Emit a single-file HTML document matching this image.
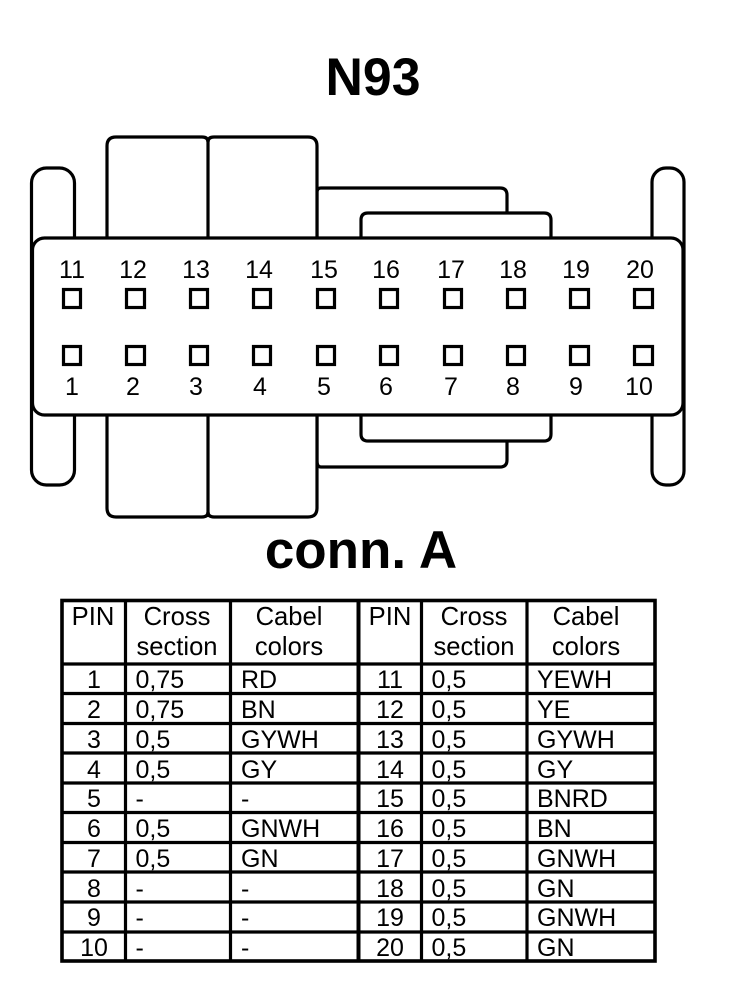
<!DOCTYPE html>
<html><head><meta charset="utf-8"><style>
html,body{margin:0;padding:0;background:#fff}
svg{display:block}
text{font-family:"Liberation Sans",sans-serif;fill:#000}
.n{font-size:25px;text-anchor:middle}
.b{font-size:53px;font-weight:bold;text-anchor:middle}
.t{font-size:25px}
.c{font-size:25px;text-anchor:middle}
.h{font-size:25.6px;text-anchor:middle}
</style></head><body>
<svg width="752" height="1002" viewBox="0 0 752 1002" xmlns="http://www.w3.org/2000/svg">
<rect width="752" height="1002" fill="#fff"/>
<text class="b" x="373" y="95" textLength="95" lengthAdjust="spacingAndGlyphs">N93</text>
<text class="b" x="361" y="568">conn. A</text>
<g fill="#fff" stroke="#000" stroke-width="3.2">
<rect x="31.5" y="168" width="43" height="317" rx="15"/>
<rect x="652" y="168" width="32" height="317" rx="14"/>
<path d="M361 240V220q0-7 7-7H544q7 0 7 7V240M361 415V434q0 7 7 7H544q7 0 7-7V415"/>
<path d="M317 240V192q0-4 4-4H500q7 0 7 7V213M317 415V461q0 6 4 6H500q7 0 7-7V441" fill="none"/>
<path d="M107 240V146q0-9 9-9H202q6 0 6 5q0-5 6-5H308q9 0 9 9V188V415V508q0 9-9 9H214q-6 0-6-5q0 5-6 5H116q-9 0-9-9V415Z"/>
<path d="M208 140V515" fill="none"/>
<rect x="32.5" y="238" width="650.5" height="177" rx="12"/>
</g>
<g fill="none" stroke="#000" stroke-width="3.2">
<rect x="63.5" y="289.5" width="17" height="18"/><rect x="126.5" y="289.5" width="18" height="18"/><rect x="190.5" y="289.5" width="17" height="18"/><rect x="253.5" y="289.5" width="17" height="18"/><rect x="317.5" y="289.5" width="17" height="18"/><rect x="380.5" y="289.5" width="17" height="18"/><rect x="444.5" y="289.5" width="17" height="18"/><rect x="507.5" y="289.5" width="17" height="18"/><rect x="570.5" y="289.5" width="18" height="18"/><rect x="634.5" y="289.5" width="18" height="18"/>
<rect x="63.5" y="346.5" width="17" height="18"/><rect x="126.5" y="346.5" width="18" height="18"/><rect x="190.5" y="346.5" width="17" height="18"/><rect x="253.5" y="346.5" width="17" height="18"/><rect x="317.5" y="346.5" width="17" height="18"/><rect x="380.5" y="346.5" width="17" height="18"/><rect x="444.5" y="346.5" width="17" height="18"/><rect x="507.5" y="346.5" width="17" height="18"/><rect x="570.5" y="346.5" width="18" height="18"/><rect x="634.5" y="346.5" width="18" height="18"/>
</g>
<g>
<text class="n" x="72" y="278">11</text><text class="n" x="133" y="278">12</text><text class="n" x="196" y="278">13</text><text class="n" x="259" y="278">14</text><text class="n" x="324" y="278">15</text><text class="n" x="386" y="278">16</text><text class="n" x="451" y="278">17</text><text class="n" x="513" y="278">18</text><text class="n" x="576" y="278">19</text><text class="n" x="640" y="278">20</text>
<text class="n" x="72" y="395">1</text><text class="n" x="133" y="395">2</text><text class="n" x="196" y="395">3</text><text class="n" x="260" y="395">4</text><text class="n" x="324" y="395">5</text><text class="n" x="386" y="395">6</text><text class="n" x="451" y="395">7</text><text class="n" x="513" y="395">8</text><text class="n" x="576" y="395">9</text><text class="n" x="639" y="395">10</text>
</g>
<g stroke="#000" fill="none">
<rect x="62" y="600.5" width="593" height="360.5" stroke-width="3.6"/>
<path stroke-width="3.2" d="M125.5 600V961M230.5 600V961M421.5 600V961M527 600V961"/>
<path stroke-width="4" d="M358.5 600V961"/>
<path stroke-width="3.2" d="M62 664H655M62 693.5H655M62 723.5H655M62 753H655M62 783H655M62 812.5H655M62 842.5H655M62 872H655M62 902H655M62 932H655"/>
</g>
<text class="h" x="93" y="625">PIN</text><text class="h" x="177" y="625">Cross</text><text class="h" x="177" y="655">section</text><text class="h" x="289" y="625">Cabel</text><text class="h" x="289" y="655">colors</text>
<text class="h" x="390" y="625">PIN</text><text class="h" x="474" y="625">Cross</text><text class="h" x="474" y="655">section</text><text class="h" x="586" y="625">Cabel</text><text class="h" x="586" y="655">colors</text>
<text class="c" x="94" y="688">1</text><text class="t" x="135.5" y="688">0,75</text><text class="t" x="241" y="688">RD</text><text class="c" x="390" y="688">11</text><text class="t" x="431.5" y="688">0,5</text><text class="t" x="537" y="688">YEWH</text>
<text class="c" x="94" y="718">2</text><text class="t" x="135.5" y="718">0,75</text><text class="t" x="241" y="718">BN</text><text class="c" x="390" y="718">12</text><text class="t" x="431.5" y="718">0,5</text><text class="t" x="537" y="718">YE</text>
<text class="c" x="94" y="748">3</text><text class="t" x="135.5" y="748">0,5</text><text class="t" x="241" y="748">GYWH</text><text class="c" x="390" y="748">13</text><text class="t" x="431.5" y="748">0,5</text><text class="t" x="537" y="748">GYWH</text>
<text class="c" x="94" y="778">4</text><text class="t" x="135.5" y="778">0,5</text><text class="t" x="241" y="778">GY</text><text class="c" x="390" y="778">14</text><text class="t" x="431.5" y="778">0,5</text><text class="t" x="537" y="778">GY</text>
<text class="c" x="94" y="807">5</text><text class="t" x="135.5" y="807">-</text><text class="t" x="241" y="807">-</text><text class="c" x="390" y="807">15</text><text class="t" x="431.5" y="807">0,5</text><text class="t" x="537" y="807">BNRD</text>
<text class="c" x="94" y="837">6</text><text class="t" x="135.5" y="837">0,5</text><text class="t" x="241" y="837">GNWH</text><text class="c" x="390" y="837">16</text><text class="t" x="431.5" y="837">0,5</text><text class="t" x="537" y="837">BN</text>
<text class="c" x="94" y="867">7</text><text class="t" x="135.5" y="867">0,5</text><text class="t" x="241" y="867">GN</text><text class="c" x="390" y="867">17</text><text class="t" x="431.5" y="867">0,5</text><text class="t" x="537" y="867">GNWH</text>
<text class="c" x="94" y="897">8</text><text class="t" x="135.5" y="897">-</text><text class="t" x="241" y="897">-</text><text class="c" x="390" y="897">18</text><text class="t" x="431.5" y="897">0,5</text><text class="t" x="537" y="897">GN</text>
<text class="c" x="94" y="926">9</text><text class="t" x="135.5" y="926">-</text><text class="t" x="241" y="926">-</text><text class="c" x="390" y="926">19</text><text class="t" x="431.5" y="926">0,5</text><text class="t" x="537" y="926">GNWH</text>
<text class="c" x="94" y="956">10</text><text class="t" x="135.5" y="956">-</text><text class="t" x="241" y="956">-</text><text class="c" x="390" y="956">20</text><text class="t" x="431.5" y="956">0,5</text><text class="t" x="537" y="956">GN</text>
</svg>
</body></html>
